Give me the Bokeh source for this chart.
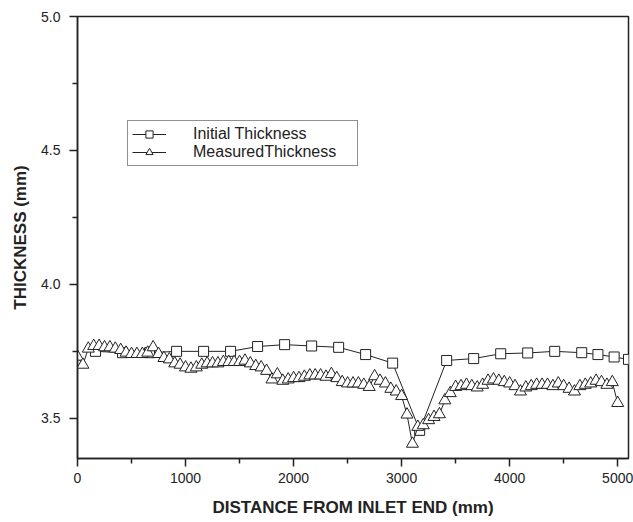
from bokeh.plotting import figure
from bokeh.models import Range1d, FixedTicker, Legend, LegendItem, CustomJSTickFormatter
from bokeh.embed import file_html
from bokeh.resources import INLINE

# Initial thickness (squares)
init_x = [167, 417, 667, 917, 1167, 1417, 1667, 1917, 2167, 2417, 2667, 2917,
          3167, 3417, 3667, 3917, 4167, 4417, 4667, 4817, 4967, 5100]
init_y = [3.750, 3.745, 3.745, 3.750, 3.750, 3.750, 3.768, 3.775, 3.770, 3.765,
          3.738, 3.706, 3.455, 3.716, 3.723, 3.741, 3.744, 3.750, 3.745, 3.738,
          3.729, 3.720]

# Measured thickness (triangles), every 50 mm
meas_x = list(range(0, 5001, 50))
meas_y = [3.73, 3.70, 3.76, 3.77, 3.77, 3.765, 3.765, 3.76, 3.755, 3.745,
          3.74, 3.74, 3.74, 3.745, 3.765, 3.74, 3.725, 3.72, 3.705, 3.70,
          3.69, 3.685, 3.69, 3.70, 3.705, 3.705, 3.705, 3.71, 3.71, 3.71,
          3.71, 3.715, 3.705, 3.695, 3.69, 3.677, 3.645, 3.664, 3.64, 3.645,
          3.65, 3.65, 3.655, 3.66, 3.66, 3.66, 3.655, 3.665, 3.65, 3.635,
          3.63, 3.63, 3.63, 3.625, 3.617, 3.657, 3.64, 3.63, 3.61, 3.60,
          3.583, 3.514, 3.405, 3.468, 3.474, 3.493, 3.505, 3.515, 3.567, 3.594,
          3.617, 3.62, 3.625, 3.62, 3.615, 3.625, 3.64, 3.645, 3.64, 3.635,
          3.63, 3.62, 3.60, 3.615, 3.62, 3.625, 3.625, 3.625, 3.62, 3.63,
          3.62, 3.61, 3.60, 3.62, 3.625, 3.63, 3.64, 3.635, 3.625, 3.635,
          3.557]

x_ticks = [0, 1000, 2000, 3000, 4000, 5000]
x_minor = [500, 1500, 2500, 3500, 4500]
y_ticks = [3.5, 4.0, 4.5, 5.0]
y_minor = [3.75, 4.25, 4.75]

FONT = "Liberation Sans"
INK = "#222222"

p = figure(width=633, height=522, output_backend="svg", toolbar_location=None,
           x_range=Range1d(0, 5100), y_range=Range1d(3.35, 5.0),
           min_border_left=77, min_border_right=5, min_border_top=16,
           min_border_bottom=64)
p.grid.visible = False
p.outline_line_color = INK
p.outline_line_width = 1.5
p.background_fill_color = "white"
p.border_fill_color = "white"

for ax in (p.xaxis[0], p.yaxis[0]):
    ax.axis_line_color = INK
    ax.axis_line_width = 1.5
    ax.major_tick_line_color = INK
    ax.minor_tick_line_color = INK
    ax.major_tick_line_width = 1.5
    ax.minor_tick_line_width = 1.5
    ax.major_tick_in = 0
    ax.minor_tick_in = 0
    ax.major_tick_out = 8
    ax.minor_tick_out = 5
    ax.major_label_text_font = FONT
    ax.major_label_text_font_size = "14px"
    ax.major_label_text_color = INK
    ax.axis_label_text_font = FONT
    ax.axis_label_text_font_size = "17px"
    ax.axis_label_text_font_style = "bold"
    ax.axis_label_text_color = INK

p.xaxis.ticker = FixedTicker(ticks=x_ticks, minor_ticks=x_minor)
p.yaxis.ticker = FixedTicker(ticks=y_ticks, minor_ticks=y_minor)
p.yaxis.formatter = CustomJSTickFormatter(code="return tick.toFixed(1);")
p.xaxis.axis_label = "DISTANCE FROM INLET END (mm)"
p.yaxis.axis_label = "THICKNESS (mm)"
p.xaxis.major_label_standoff = 6
p.yaxis.major_label_standoff = 9
p.xaxis.axis_label_standoff = 12
p.yaxis.axis_label_standoff = 8

l1 = p.line(init_x, init_y, line_color=INK, line_width=1)
s1 = p.scatter(init_x, init_y, marker="square", size=10, fill_color="white",
               line_color=INK, line_width=1)
l2 = p.line(meas_x, meas_y, line_color=INK, line_width=1)
s2 = p.scatter(meas_x, meas_y, marker="triangle", size=12, fill_color="white",
               line_color=INK, line_width=1)

legend = Legend(items=[LegendItem(label="Initial Thickness", renderers=[l1, s1]),
                       LegendItem(label="MeasuredThickness", renderers=[l2, s2])],
                location=(50, 292), padding=4, margin=0, spacing=0,
                glyph_width=34, glyph_height=18, label_height=18,
                label_standoff=27, label_width=160,
                label_text_font=FONT, label_text_font_size="16px",
                label_text_color=INK,
                border_line_color=INK, border_line_width=1,
                background_fill_color="white", background_fill_alpha=1)
p.add_layout(legend, "center")

open("out.html", "w").write(file_html(p, INLINE))
